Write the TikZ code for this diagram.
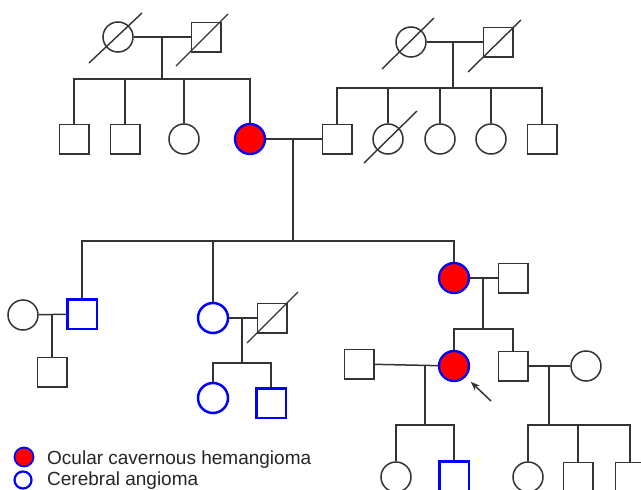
\documentclass[tikz,border=0pt]{standalone}
\usepackage{fontspec}
\setmainfont{Liberation Sans}
\usetikzlibrary{arrows.meta,calc}

\tikzset{
  person/.style={draw=black!80, line width=1.5pt, inner sep=0pt, fill=white},
  female/.style={person, circle, minimum size=30pt},
  male/.style={person, rectangle, minimum size=29.5pt},
  ocular/.style={fill=red, draw=blue, line width=2.3pt},
  cerebral/.style={draw=blue, line width=2.5pt},
  link/.style={draw=black!80, line width=1.5pt},
  deceased/.style={draw=black!80, line width=1.4pt},
  legendtext/.style={font=\fontsize{19}{22}\selectfont, text=black!85, inner sep=0pt, anchor=base west}
}

\begin{document}
\begin{tikzpicture}[x=1pt, y=-1pt]
\clip (0,0) rectangle (641,490);
\useasboundingbox (0,0) rectangle (641,490);
\fill[white] (0,0) rectangle (641,490);

% ---------------- generation I ----------------
\node[female] (a1) at (118,37) {};
\node[male]   (a2) at (206,37) {};
\node[female] (c1) at (411,42) {};
\node[male]   (c2) at (498,42) {};

% ---------------- generation II ----------------
\node[male]   (b1) at (74,139) {};
\node[male]   (b2) at (125,139) {};
\node[female] (b3) at (184,139) {};
\node[female, ocular] (b4) at (250,139) {};
\node[male]   (d1) at (337,139) {};
\node[female] (d2) at (388,139) {};
\node[female] (d3) at (440,139) {};
\node[female] (d4) at (491,139) {};
\node[male]   (d5) at (542,139) {};

% ---------------- generation III ----------------
\node[female] (e0) at (23,315) {};
\node[male, cerebral] (e1) at (82,314) {};
\node[female, cerebral] (e2) at (213,318) {};
\node[male]   (e2s) at (272,318) {};
\node[female, ocular] (e3) at (454,278) {};
\node[male]   (e3s) at (513,278) {};

% ---------------- generation IV ----------------
\node[male]   (f1) at (52,372) {};
\node[female, cerebral] (f2) at (213,398) {};
\node[male, cerebral] (f3) at (271,403) {};
\node[male]   (f4s) at (359,364) {};
\node[female, ocular] (f4) at (454,366) {};
\node[male]   (f5) at (513,366) {};
\node[female] (f5s) at (586,366) {};

% ---------------- generation V ----------------
\node[female] (g1) at (396,477) {};
\node[male, cerebral] (g2) at (454,476) {};
\node[female] (g3) at (528,477) {};
\node[male]   (g4) at (578,477) {};
\node[male]   (g5) at (630,477) {};

% junction points of the family lines
\coordinate (m1) at (162,37);  \coordinate (s1) at (162,79);
\coordinate (m2) at (453,42);  \coordinate (s2) at (453,88);
\coordinate (m3) at (293,139); \coordinate (s3) at (293,241);
\coordinate (m4) at (52,315);
\coordinate (m5) at (242,318); \coordinate (s5) at (242,363);
\coordinate (m6) at (483,278); \coordinate (s6) at (483,329);
\coordinate (m7) at (425,365); \coordinate (s7) at (425,425);
\coordinate (m8) at (549,365); \coordinate (s8) at (549,425);

% marriages and descent lines
\draw[link] (a1) -- (a2);  \draw[link] (m1) -- (s1);
\draw[link] (b1) |- (s1);  \draw[link] (b2) |- (s1);
\draw[link] (b3) |- (s1);  \draw[link] (b4) |- (s1);

\draw[link] (c1) -- (c2);  \draw[link] (m2) -- (s2);
\draw[link] (d1) |- (s2);  \draw[link] (d2) |- (s2);
\draw[link] (d3) |- (s2);  \draw[link] (d4) |- (s2);
\draw[link] (d5) |- (s2);

\draw[link] (b4) -- (d1);  \draw[link] (m3) -- (s3);
\draw[link] (e1) |- (s3);  \draw[link] (e2) |- (s3);
\draw[link] (e3) |- (s3);

\draw[link] (e0) -- (e1);  \draw[link] (m4) -- (f1);

\draw[link] (e2) -- (e2s); \draw[link] (m5) -- (s5);
\draw[link] (f2) |- (s5);  \draw[link] (f3) |- (s5);

\draw[link] (e3) -- (e3s); \draw[link] (m6) -- (s6);
\draw[link] (f4) |- (s6);  \draw[link] (f5) |- (s6);

\draw[link] (f4s) -- (f4); \draw[link] (m7) -- (s7);
\draw[link] (g1) |- (s7);  \draw[link] (g2) |- (s7);

\draw[link] (f5) -- (f5s); \draw[link] (m8) -- (s8);
\draw[link] (g3) |- (s8);  \draw[link] (g4) |- (s8);
\draw[link] (g5) |- (s8);

% deceased strokes
\draw[deceased] ($(a1)+(-29,26)$) -- ($(a1)+(24,-24)$);
\draw[deceased] ($(a2)+(-30,29)$) -- ($(a2)+(22,-23)$);
\draw[deceased] ($(c1)+(-29,27)$) -- ($(c1)+(23,-24)$);
\draw[deceased] ($(c2)+(-30,30)$) -- ($(c2)+(23,-22)$);
\draw[deceased] ($(d2)+(-24,24)$) -- ($(d2)+(29,-28)$);
\draw[deceased] ($(e2s)+(-25,25)$) -- ($(e2s)+(26,-26)$);

% proband arrow
\coordinate (ptr) at (491,401);
\draw[link, -{Stealth[length=9pt,width=7pt]}, shorten >=7pt] (ptr) -- (f4);

% legend
\node[circle, minimum size=19pt, inner sep=0pt, ocular, line width=1.8pt] (k1) at (24,457) {};
\node[circle, minimum size=17pt, inner sep=0pt, cerebral, line width=2.2pt] (k2) at (23,480) {};
\node[legendtext] (t1) at (47,464) {Ocular cavernous hemangioma};
\node[legendtext] (t2) at (47,485) {Cerebral angioma};
\end{tikzpicture}
\end{document}
